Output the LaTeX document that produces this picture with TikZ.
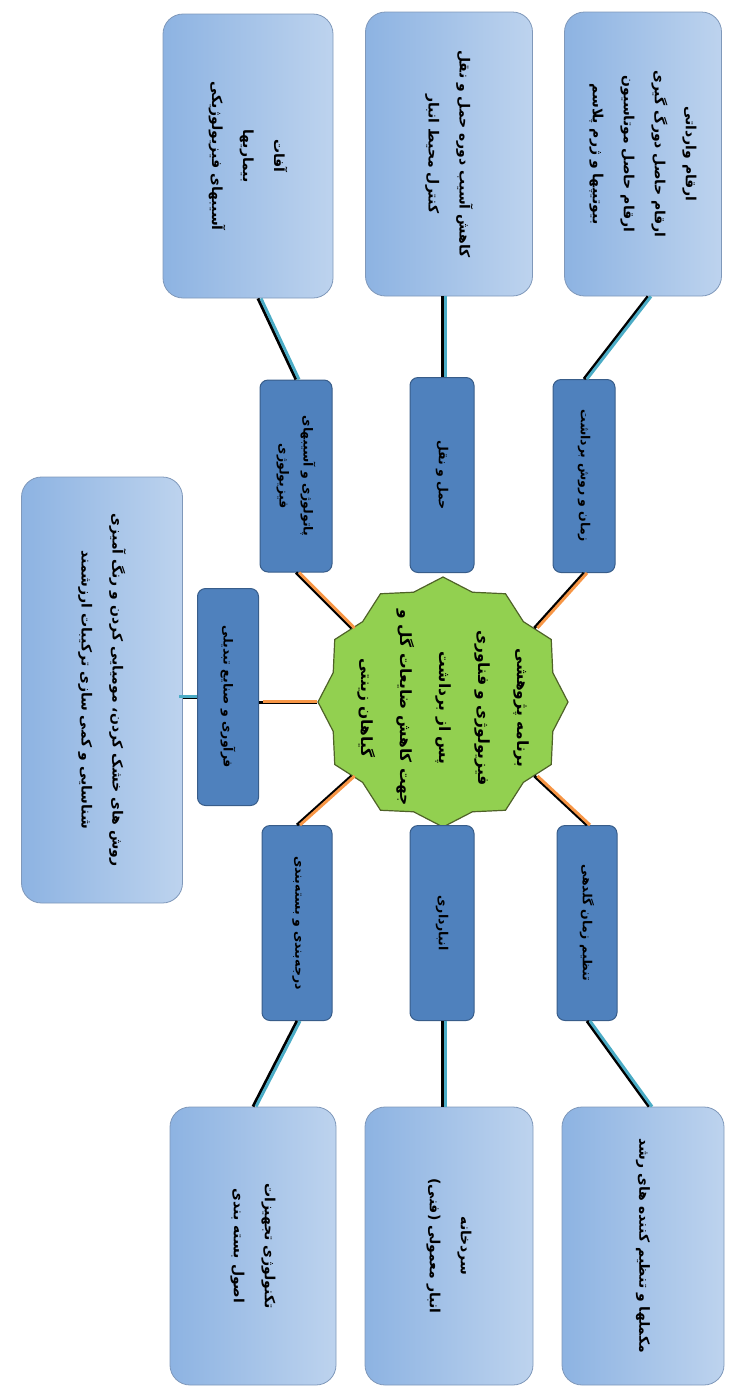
\documentclass[tikz,border=0pt]{standalone}
\usepackage{fontspec}
\usetikzlibrary{shapes.geometric}
\newfontfamily\farsifont[Script=Arabic]{DejaVu Sans}
\TeXXeTstate=1
\newcommand{\fa}[1]{\beginR #1\endR}
\definecolor{outerleft}{HTML}{8DB3E2}
\definecolor{outerright}{HTML}{BDD3EE}
\definecolor{outerline}{HTML}{7F98BA}
\definecolor{midfill}{HTML}{4F81BD}
\definecolor{midline}{HTML}{385D8A}
\definecolor{hubfill}{HTML}{92D050}
\definecolor{hubline}{HTML}{4F6228}
\definecolor{linkorange}{HTML}{F79646}
\definecolor{linkcyan}{HTML}{4BACC6}

\begin{document}
\begin{tikzpicture}[x=1pt, y=-1pt,
    outerbox/.style={draw=outerline, line width=0.8pt, rounded corners=20pt, rotate=-90,
        left color=outerleft, right color=outerright, align=center, inner sep=4pt,
        font=\farsifont\bfseries\fontsize{14}{31}\selectfont},
    midbox/.style={draw=midline, line width=1pt, fill=midfill, rounded corners=8pt, rotate=-90,
        align=center, inner sep=2pt, font=\farsifont\bfseries\fontsize{12.5}{24}\selectfont},
    hubstar/.style={star, star points=12, star point ratio=1.1, minimum size=250pt,
        draw=hubline, line width=1.2pt, fill=hubfill, inner sep=0pt},
    hubtext/.style={rotate=-90, align=center, font=\farsifont\bfseries\fontsize{15.5}{39}\selectfont},
    blk/.style={line width=3pt, black},
    org/.style={line width=3pt, linkorange},
    cyn/.style={line width=3pt, linkcyan}]
    \useasboundingbox (0,0) rectangle (731,1393);

    % centre
    \node[hubstar] (hub) at (443,702) {};
    \node[hubtext] (hubtxt) at (443,708) {\fa{برنامه پژوهشی}\\\fa{فیزیولوژی و فناوری}\\\fa{پس از برداشت}\\\fa{جهت کاهش ضایعات گل و}\\\fa{گیاهان زینتی}};

    % middle ring (rotated: west = top, east = bottom, north = right, south = left)
    \node[midbox, minimum width=193pt, minimum height=62pt] (m1) at (584,476) {\fa{زمان و روش برداشت}};
    \node[midbox, minimum width=195pt, minimum height=64pt] (m2) at (442,475) {\fa{حمل و نقل}};
    \node[midbox, minimum width=192pt, minimum height=72pt] (m3) at (296,476) {\fa{پاتولوژی و آسیبهای}\\\fa{فیزیولوژی}};
    \node[midbox, minimum width=217pt, minimum height=61pt] (m4) at (228,697) {\fa{فرآوری و صنایع تبدیلی}};
    \node[midbox, minimum width=195pt, minimum height=60pt] (m5) at (587,923) {\fa{تنظیم زمان گلدهی}};
    \node[midbox, minimum width=195pt, minimum height=64pt] (m6) at (442,923) {\fa{انبارداری}};
    \node[midbox, minimum width=195pt, minimum height=70pt] (m7) at (297,923) {\fa{درجه‌بندی و بسته‌بندی}};

    % outer boxes
    \node[outerbox, minimum width=284pt, minimum height=157pt] (o1) at (643,154) {\fa{ارقام وارداتی}\\\fa{ارقام حاصل دورگ گیری}\\\fa{ارقام حاصل موتاسیون}\\\fa{بیوتیپها و ژرم پلاسم}};
    \node[outerbox, minimum width=284pt, minimum height=167pt] (o2) at (449,154) {\fa{کاهش آسیب دوره حمل و نقل}\\\fa{کنترل محیط انبار}};
    \node[outerbox, minimum width=284pt, minimum height=170pt] (o3) at (248,156) {\fa{آفات}\\\fa{بیماریها}\\\fa{آسیبهای فیزیولوژیکی}};
    \node[outerbox, minimum width=426pt, minimum height=161pt] (o4) at (102,690) {\fa{روش های خشک کردن، مومیایی کردن و رنگ آمیزی}\\\fa{شناسایی و کمی سازی ترکیبات ارزشمند}};
    \node[outerbox, minimum width=278pt, minimum height=162pt] (o5) at (643,1246) {\fa{مکملها و تنظیم کننده های رشد}};
    \node[outerbox, minimum width=278pt, minimum height=168pt] (o6) at (449,1246) {\fa{سردخانه}\\\fa{انبار معمولی (فنی)}};
    \node[outerbox, minimum width=278pt, minimum height=166pt] (o7) at (253,1246) {\fa{تکنولوژی تجهیزات}\\\fa{اصول بسته بندی}};

    % centre to middle ring
    \draw[blk] (m1.east) -- (hub.39);
    \draw[org, transform canvas={xshift=3pt}] (m1.east) -- (hub.39);
    \draw[blk] (m3.east) -- (hub.141);
    \draw[org, transform canvas={xshift=3pt}] (m3.east) -- (hub.141);
    \draw[blk] (hub.west) -- (hub.west -| m4.north);
    \draw[org, transform canvas={yshift=1pt}] (hub.west) -- ([xshift=4pt]hub.west -| m4.north);
    \draw[blk] (m5.west) -- (hub.-39);
    \draw[org, transform canvas={xshift=3pt}] (m5.west) -- (hub.-39);
    \draw[blk] (m7.west) -- (hub.-141);
    \draw[org, transform canvas={xshift=3pt}] (m7.west) -- (hub.-141);

    % middle ring to outer boxes
    \draw[blk] (m1.west) -- ([xshift=5pt]o1.east);
    \draw[cyn, transform canvas={xshift=3pt}] (m1.west) -- ([xshift=5pt]o1.east);
    \draw[blk] (m2.west) -- (m2.west |- o2.east);
    \draw[cyn, transform canvas={xshift=3pt}] (m2.west) -- (m2.west |- o2.east);
    \draw[blk] (m3.west) -- ([xshift=10pt]o3.east);
    \draw[cyn, transform canvas={xshift=3pt}] (m3.west) -- ([xshift=10pt]o3.east);
    \draw[blk] (m4.south) -- (m4.south -| o4.north);
    \draw[cyn, transform canvas={yshift=1pt}] (m4.south) -- ([xshift=-4pt]m4.south -| o4.north);
    \draw[blk] (m5.east) -- ([xshift=6pt]o5.west);
    \draw[cyn, transform canvas={xshift=3pt}] (m5.east) -- ([xshift=6pt]o5.west);
    \draw[blk] (m6.east) -- (m6.east |- o6.west);
    \draw[cyn, transform canvas={xshift=3pt}] (m6.east) -- (m6.east |- o6.west);
    \draw[blk] (m7.east) -- (o7.west);
    \draw[cyn, transform canvas={xshift=3pt}] (m7.east) -- (o7.west);
\end{tikzpicture}
\end{document}
